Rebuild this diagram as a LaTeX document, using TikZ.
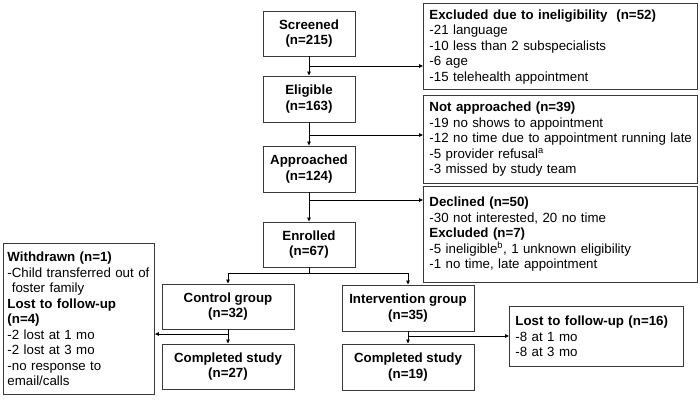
\documentclass[tikz,border=0pt]{standalone}
\usepackage{fontspec}
\setmainfont{Liberation Sans}
\usetikzlibrary{arrows.meta,positioning}
\definecolor{boxline}{HTML}{3A3A3A}

\tikzset{
  stagebox/.style={draw=boxline, line width=0.9pt, align=center, inner sep=3pt,
    font=\bfseries\fontsize{13.3}{15.5}\selectfont},
  sidebox/.style={draw=boxline, line width=0.9pt, align=left, anchor=north west,
    inner sep=6pt, font=\fontsize{13.3}{15.5}\selectfont},
  flow/.style={line width=0.8pt, -{Triangle[length=4pt,width=3.5pt]}},
  link/.style={line width=0.8pt}
}

\begin{document}
\begin{tikzpicture}[x=1pt, y=-1pt]
	\useasboundingbox (0,0) rectangle (700,400);
	% main column
	\node[stagebox, minimum width=92pt, minimum height=45pt] (screened) at (309,33.5) {Screened\\(n=215)};
	\node[stagebox, minimum width=92pt, minimum height=46pt] (eligible) at (309,99) {Eligible\\(n=163)};
	\node[stagebox, minimum width=92pt, minimum height=46pt] (approached) at (309,169) {Approached\\(n=124)};
	\node[stagebox, minimum width=92pt, minimum height=45pt] (enrolled) at (309,244.5) {Enrolled\\(n=67)};
	\node[stagebox, minimum width=132pt, minimum height=45pt] (control) at (228,306.5) {Control group\\(n=32)};
	\node[stagebox, minimum width=132pt, minimum height=45pt] (ctrldone) at (228,366.5) {Completed study\\(n=27)};
	\node[stagebox, minimum width=132pt, minimum height=46pt] (interv) at (408,308) {Intervention group\\(n=35)};
	\node[stagebox, minimum width=132pt, minimum height=46pt] (intdone) at (408,367) {Completed study\\(n=19)};
	% side boxes
	\node[sidebox, text width=262pt, minimum height=86pt] (excluded) at (423,3)
		{\mbox{\textbf{Excluded due to ineligibility\ \ (n=52)}}\\-21 language\\-10 less than 2 subspecialists\\-6 age\\-15 telehealth appointment};
	\node[sidebox, text width=262pt, minimum height=88pt] (notappr) at (423,95)
		{\textbf{Not approached (n=39)}\\-19 no shows to appointment\\\mbox{-12 no time due to appointment running late}\\-5 provider refusal\textsuperscript{a}\\-3 missed by study team};
	\node[sidebox, text width=262pt, minimum height=96pt] (declined) at (423,186)
		{\textbf{Declined (n=50)}\\-30 not interested, 20 no time\\\textbf{Excluded (n=7)}\\\mbox{-5 ineligible\textsuperscript{b}, 1 unknown eligibility}\\-1 no time, late appointment};
	\node[sidebox, text width=162pt, minimum height=60pt] (lostint) at (509,306)
		{\mbox{\textbf{Lost to follow-up (n=16)}}\\-8 at 1 mo\\-8 at 3 mo};
	\node[sidebox, inner sep=4pt, text width=143pt, minimum height=151pt] (withdrawn) at (3,243)
		{\textbf{Withdrawn (n=1)}\\\mbox{-Child transferred out of}\\\ foster family\\\textbf{Lost to follow-up}\\\textbf{(n=4)}\\-2 lost at 1 mo\\-2 lost at 3 mo\\-no response to\\email/calls};
	% branch points
	\coordinate (b1) at (309,66);
	\coordinate (b2) at (309,135);
	\coordinate (b3) at (309,200);
	\coordinate (split) at (309,273);
	\coordinate (b4) at (228,334);
	\coordinate (b5) at (408,336);
	% connectors
	\draw[flow] (screened) -- (eligible);
	\draw[flow] (b1) -- (b1 -| excluded.west);
	\draw[flow] (eligible) -- (approached);
	\draw[flow] (b2) -- (b2 -| notappr.west);
	\draw[flow] (approached) -- (enrolled);
	\draw[flow] (b3) -- (b3 -| declined.west);
	\draw[link] (enrolled) -- (split);
	\draw[flow] (split) -| (control);
	\draw[flow] (split) -| (interv);
	\draw[flow] (control) -- (ctrldone);
	\draw[flow] (b4) -- (b4 -| withdrawn.east);
	\draw[flow] (interv) -- (intdone);
	\draw[flow] (b5) -- (b5 -| lostint.west);
\end{tikzpicture}
\end{document}
